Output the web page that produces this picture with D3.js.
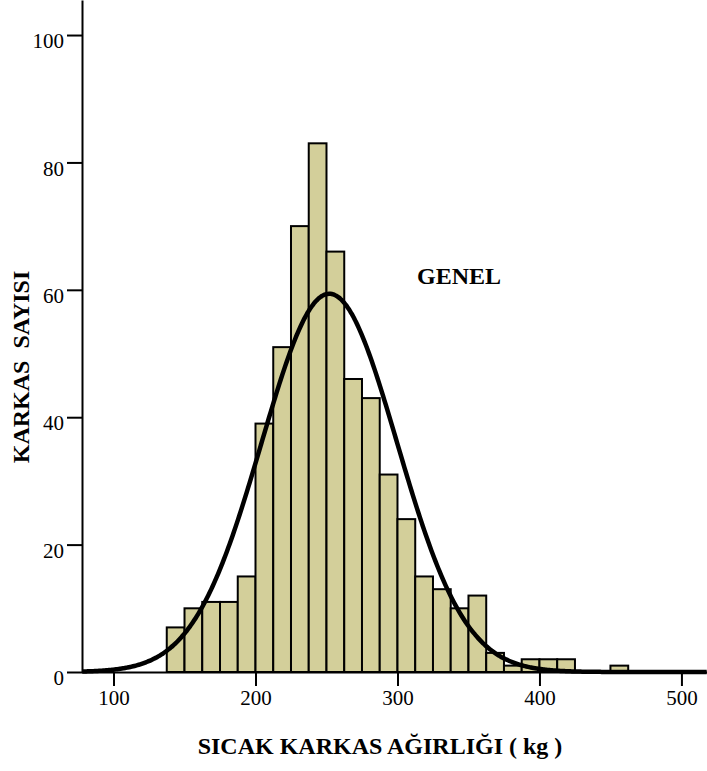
<!DOCTYPE html>
<html>
<head>
<meta charset="utf-8">
<script src="https://cdn.jsdelivr.net/npm/d3@7"></script>
<style>
  body { margin: 0; background: #fff; }
  svg { display: block; }
</style>
</head>
<body>
<svg id="hist" width="707" height="771"></svg>
<script>
// histogram bins (kg), width 12.5
var binStarts = [137.5, 150, 162.5, 175, 187.5, 200, 212.5, 225, 237.5, 250, 262.5, 275,
	287.5, 300, 312.5, 325, 337.5, 350, 362.5, 375, 387.5, 400, 412.5, 450];
var counts = [7, 10, 11, 11, 15, 39, 51, 70, 83, 66, 46, 43,
	31, 24, 15, 13, 10, 12, 3, 1, 2, 2, 2, 1];
var binWidth = 12.5;
var xTicks = [100, 200, 300, 400, 500];
var yTicks = [0, 20, 40, 60, 80, 100];
// fitted normal curve
var curveMean = 252;
var curveSd = 47.7;

var data = binStarts.map((b, i) => ({start: b, count: counts[i]}));
var n = d3.sum(counts);

var svg = d3.select("#hist"),
	margin = {top: 0, left: 82, bottom: 99, right: 0},
	width = +svg.attr("width"),
	height = +svg.attr("height");

var x = d3.scaleLinear()
	.domain([77.8, 518])
	.range([margin.left, width - margin.right]);

var y = d3.scaleLinear()
	.domain([0, 105.5])
	.range([height - margin.bottom, margin.top]);

// bars
svg.selectAll(".bar")
	.data(data)
	.enter().append("rect")
	.attr("class", "bar")
	.attr("x", d => x(d.start))
	.attr("width", d => x(d.start + binWidth) - x(d.start))
	.attr("y", d => y(d.count))
	.attr("height", d => y(0) - y(d.count))
	.attr("fill", "#d3cf9a")
	.attr("stroke", "#000")
	.attr("stroke-width", 2);

// normal curve
var pts = d3.range(x.domain()[0], x.domain()[1] + 0.5, 1).map(v => {
	var z = (v - curveMean) / curveSd;
	return [v, n * binWidth * Math.exp(-0.5 * z * z) / (curveSd * Math.sqrt(2 * Math.PI))];
});
svg.append("path")
	.datum(pts)
	.attr("fill", "none")
	.attr("stroke", "#000")
	.attr("stroke-width", 4.5)
	.attr("d", d3.line().x(d => x(d[0])).y(d => y(d[1])).curve(d3.curveBasis));

// axes
var yAxis = svg.append("g")
	.attr("class", "y-axis")
	.attr("transform", `translate(${margin.left},0)`)
	.call(d3.axisLeft(y).tickValues(yTicks).tickSize(15).tickPadding(3).tickSizeOuter(0));

var xAxis = svg.append("g")
	.attr("class", "x-axis")
	.attr("transform", `translate(0,${y(0)})`)
	.call(d3.axisBottom(x).tickValues(xTicks).tickSize(14).tickPadding(4).tickSizeOuter(0));

svg.selectAll(".domain").attr("stroke", "#000").attr("stroke-width", 2);
svg.selectAll(".tick line").attr("stroke", "#000").attr("stroke-width", 2);
svg.selectAll(".tick text")
	.attr("fill", "#000")
	.style("font-family", "'Liberation Serif', serif")
	.style("font-size", "21px");
yAxis.selectAll(".tick text").attr("dy", "0.6em");

// labels
svg.append("text")
	.attr("x", 459)
	.attr("y", 284)
	.attr("text-anchor", "middle")
	.style("font-family", "'Liberation Serif', serif")
	.style("font-weight", "bold")
	.style("font-size", "24px")
	.text("GENEL");

svg.append("text")
	.attr("x", 380)
	.attr("y", 754)
	.attr("text-anchor", "middle")
	.style("font-family", "'Liberation Serif', serif")
	.style("font-weight", "bold")
	.style("font-size", "24px")
	.text("SICAK KARKAS AĞIRLIĞI ( kg )");

svg.append("text")
	.attr("transform", "translate(29,367) rotate(-90)")
	.attr("text-anchor", "middle")
	.style("font-family", "'Liberation Serif', serif")
	.style("font-weight", "bold")
	.style("font-size", "24px")
	.style("white-space", "pre")
	.text("KARKAS  SAYISI");
</script>
</body>
</html>
